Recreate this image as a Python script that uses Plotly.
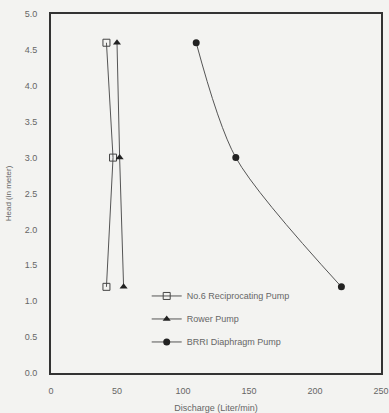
import plotly.graph_objects as go

head = [4.6, 3.0, 1.2]
recip_q = [42, 47, 42]
rower_q = [50, 52, 55]
brri_q = [110, 140, 220]
x_ticks = [0, 50, 100, 150, 200, 250]
y_ticks = [0.0, 0.5, 1.0, 1.5, 2.0, 2.5, 3.0, 3.5, 4.0, 4.5, 5.0]

line_col = "#555555"
fig = go.Figure()
fig.add_trace(go.Scatter(x=recip_q, y=head, mode="lines+markers", name="No.6 Reciprocating Pump",
                         legendgroup="a",
                         line=dict(color=line_col, width=1),
                         marker=dict(symbol="square-open", size=7, color="#444444", line=dict(width=1))))
fig.add_trace(go.Scatter(x=rower_q, y=head, mode="lines+markers", name="Rower Pump",
                         legendgroup="b",
                         line=dict(color=line_col, width=1),
                         marker=dict(symbol="triangle-up", size=7, color="#222222")))
fig.add_trace(go.Scatter(x=brri_q, y=head, mode="lines+markers", name="BRRI Diaphragm Pump",
                         legendgroup="c",
                         line=dict(color=line_col, width=1, shape="spline", smoothing=0.8),
                         marker=dict(symbol="circle", size=7, color="#222222")))

bg = "#f3f3f1"
fig.update_layout(
    width=389, height=413,
    margin=dict(l=51, r=8, t=14, b=40, autoexpand=False),
    paper_bgcolor=bg, plot_bgcolor=bg,
    font=dict(family="Liberation Sans, Arial", size=9, color="#666666"),
    showlegend=True,
    legend=dict(x=0.29, y=0.255, xanchor="left", yanchor="top", bgcolor="rgba(0,0,0,0)",
                font=dict(size=9, color="#666666"), tracegroupgap=4, itemwidth=30),
    xaxis=dict(range=[0, 250], tickvals=x_ticks, ticktext=[str(v) for v in x_ticks],
               showgrid=False, zeroline=False, showline=True, linecolor="#333333", linewidth=2,
               mirror=True, ticks="", ticklabelstandoff=8, automargin=False,
               title=dict(text="Discharge (Liter/min)", standoff=12,
                          font=dict(size=9, color="#666666"))),
    yaxis=dict(range=[0, 5], tickvals=y_ticks, ticktext=[f"{v:.1f}" for v in y_ticks],
               showgrid=False, zeroline=False, showline=True, linecolor="#333333", linewidth=2,
               mirror=True, ticks="", ticklabelstandoff=10, automargin=False,
               title=dict(text="Head (in meter)", standoff=12, font=dict(size=8, color="#666666"))),
)
fig.write_html("out.html")
